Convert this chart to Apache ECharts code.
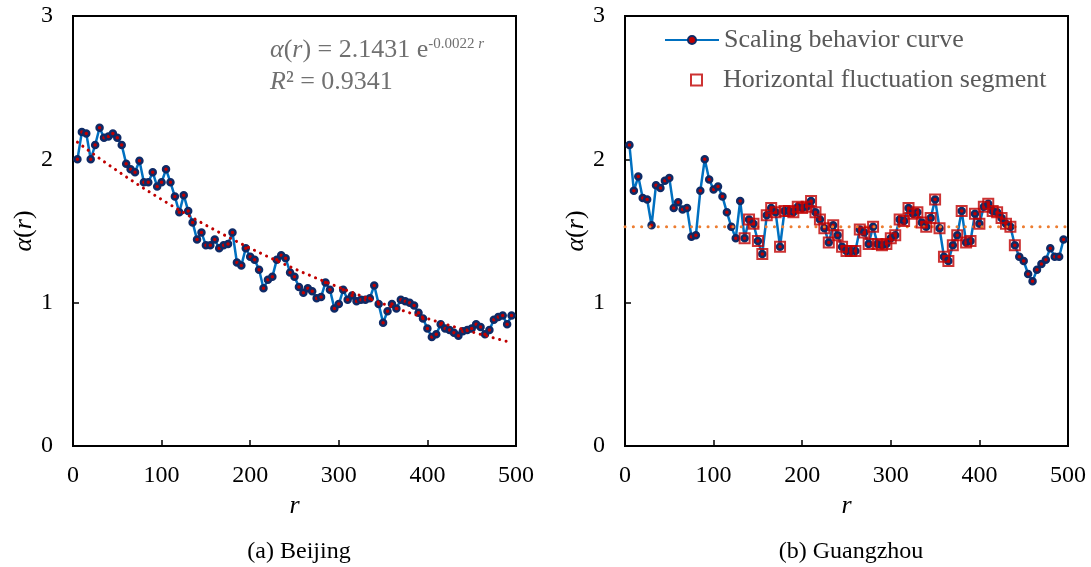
<!DOCTYPE html>
<html>
<head>
<meta charset="utf-8">
<script src="https://cdn.jsdelivr.net/npm/echarts@6/dist/echarts.min.js"></script>
<style>
  html, body { margin: 0; padding: 0; background: #fff; }
  #chart { width: 1091px; height: 567px; }
</style>
</head>
<body>
<div id="chart"></div>
<script>
// sampling radius r (5 .. 495, step 5)
const rValues = Array.from({ length: 99 }, (_, i) => 5 * (i + 1));

const beijingAlpha = [
  2.00, 2.19, 2.18, 2.00, 2.10, 2.22, 2.15, 2.16, 2.18, 2.15,
  2.10, 1.97, 1.93, 1.91, 1.99, 1.84, 1.84, 1.91, 1.81, 1.84,
  1.93, 1.84, 1.74, 1.63, 1.75, 1.64, 1.56, 1.44, 1.49, 1.40,
  1.40, 1.44, 1.38, 1.40, 1.41, 1.49, 1.28, 1.26, 1.38, 1.32,
  1.30, 1.23, 1.10, 1.16, 1.18, 1.30, 1.33, 1.31, 1.21, 1.18,
  1.11, 1.07, 1.10, 1.08, 1.03, 1.04, 1.14, 1.09, 0.96, 0.99,
  1.09, 1.02, 1.05, 1.01, 1.02, 1.02, 1.03, 1.12, 0.99, 0.86,
  0.94, 0.99, 0.96, 1.02, 1.01, 1.00, 0.98, 0.93, 0.89, 0.82,
  0.76, 0.78, 0.85, 0.82, 0.81, 0.79, 0.77, 0.80, 0.81, 0.82,
  0.85, 0.83, 0.78, 0.81, 0.88, 0.90, 0.91, 0.85, 0.91
];

const guangzhouAlpha = [
  2.10, 1.78, 1.88, 1.73, 1.72, 1.54, 1.82, 1.80, 1.85, 1.87,
  1.66, 1.70, 1.65, 1.66, 1.46, 1.47, 1.78, 2.00, 1.86, 1.79,
  1.81, 1.74, 1.63, 1.53, 1.45, 1.71, 1.45, 1.58, 1.55, 1.43,
  1.34, 1.61, 1.66, 1.63, 1.39, 1.64, 1.64, 1.63, 1.67, 1.66,
  1.67, 1.71, 1.63, 1.58, 1.52, 1.42, 1.54, 1.47, 1.39, 1.36,
  1.36, 1.36, 1.51, 1.49, 1.41, 1.53, 1.41, 1.40, 1.41, 1.45,
  1.47, 1.58, 1.57, 1.66, 1.62, 1.63, 1.56, 1.53, 1.59, 1.72,
  1.52, 1.32, 1.29, 1.40, 1.47, 1.64, 1.42, 1.43, 1.62, 1.55,
  1.67, 1.69, 1.64, 1.63, 1.59, 1.55, 1.53, 1.40, 1.32, 1.29,
  1.20, 1.15, 1.23, 1.27, 1.30, 1.38, 1.32, 1.32, 1.44
];

// fitted curve shown on panel (a): alpha(r) = 2.1431 e^(-0.0022 r)
const fitA = 2.1431;
const fitB = -0.0022;

// horizontal reference level on panel (b) and the fluctuation segment range
const guangzhouLevel = 1.53;
const segmentFrom = 135;
const segmentTo = 440;

const xRange = [0, 500];
const yRange = [0, 3];

const FONT = "'Liberation Serif', 'Times New Roman', serif";

const pairs = (ys) => rValues.map((r, i) => [r, ys[i]]);
const fitLine = rValues.map((r) => [r, fitA * Math.exp(fitB * r)]);
const segment = pairs(guangzhouAlpha).filter((p) => p[0] >= segmentFrom && p[0] <= segmentTo);
const levelLine = xRange.map((r) => [r, guangzhouLevel]);

const chart = echarts.init(document.getElementById("chart"));

const grids = [
  { left: 73, top: 16, width: 443, height: 430 },
  { left: 625, top: 16, width: 443, height: 430 }
];

const makeX = (gi) => ({
  type: "value",
  gridIndex: gi,
  min: xRange[0],
  max: xRange[1],
  interval: 100,
  name: "r",
  nameLocation: "middle",
  nameGap: 46,
  nameTextStyle: { fontFamily: FONT, fontStyle: "italic", fontSize: 26, color: "#000" },
  axisLine: { onZero: false, lineStyle: { color: "#000", width: 2 } },
  axisTick: { inside: true, length: 6, lineStyle: { color: "#000", width: 1.5 } },
  axisLabel: { fontFamily: FONT, fontSize: 24, color: "#000", margin: 18 },
  splitLine: { show: false }
});

const makeY = (gi) => ({
  type: "value",
  gridIndex: gi,
  min: yRange[0],
  max: yRange[1],
  interval: 1,
  name: "{i|α}({i|r})",
  nameLocation: "middle",
  nameGap: 36,
  nameTextStyle: {
    fontFamily: FONT, fontSize: 26, color: "#000",
    rich: { i: { fontFamily: FONT, fontStyle: "italic", fontSize: 26, color: "#000" } }
  },
  axisLine: { lineStyle: { color: "#000", width: 2 } },
  axisTick: { inside: true, length: 6, lineStyle: { color: "#000", width: 1.5 } },
  axisLabel: { fontFamily: FONT, fontSize: 24, color: "#000", margin: 20 },
  splitLine: { show: false }
});

const curveStyle = {
  type: "line",
  symbol: "circle",
  symbolSize: 6,
  showSymbol: true,
  lineStyle: { color: "#0070C0", width: 2.5 },
  itemStyle: { color: "#C00000", borderColor: "#0E2A66", borderWidth: 2.5 },
  emphasis: { disabled: true },
  z: 2
};

const legendText = { fontFamily: FONT, fontSize: 26, color: "#595959" };

const option = {
  animation: false,
  backgroundColor: "#fff",
  grid: grids.map((g) => Object.assign({ show: true, borderColor: "#000", borderWidth: 2 }, g)),
  xAxis: [makeX(0), makeX(1)],
  yAxis: [makeY(0), makeY(1)],
  title: [
    {
      text: "{i|α}({i|r}) = 2.1431 e{sup|-0.0022 }{supi|r}",
      left: 265, top: 32,
      textStyle: {
        fontFamily: FONT, fontSize: 26, fontWeight: "normal", color: "#707070",
        rich: {
          i: { fontFamily: FONT, fontStyle: "italic", fontSize: 26, color: "#707070" },
          sup: { fontFamily: FONT, fontSize: 15, color: "#707070", verticalAlign: "top", lineHeight: 16 },
          supi: { fontFamily: FONT, fontSize: 15, fontStyle: "italic", color: "#707070", verticalAlign: "top", lineHeight: 16 }
        }
      }
    },
    {
      text: "{i|R}² = 0.9341",
      left: 265, top: 64,
      textStyle: {
        fontFamily: FONT, fontSize: 26, fontWeight: "normal", color: "#707070",
        rich: { i: { fontFamily: FONT, fontStyle: "italic", fontSize: 26, color: "#707070" } }
      }
    },
    {
      text: "(a) Beijing",
      left: 294, top: 535, textAlign: "center",
      textStyle: { fontFamily: FONT, fontSize: 24, fontWeight: "normal", color: "#000" }
    },
    {
      text: "(b) Guangzhou",
      left: 846, top: 535, textAlign: "center",
      textStyle: { fontFamily: FONT, fontSize: 24, fontWeight: "normal", color: "#000" }
    }
  ],
  legend: [
    {
      data: ["Scaling behavior curve"],
      left: 659,
      top: 22,
      itemWidth: 54,
      itemHeight: 10,
      selectedMode: false,
      textStyle: legendText
    },
    {
      data: ["Horizontal fluctuation segment"],
      left: 685,
      top: 62,
      itemWidth: 11,
      itemHeight: 11,
      selectedMode: false,
      textStyle: Object.assign({ padding: [0, 0, 0, 16] }, legendText)
    }
  ],
  series: [
    Object.assign({}, curveStyle, {
      name: "Beijing curve",
      xAxisIndex: 0, yAxisIndex: 0,
      data: pairs(beijingAlpha)
    }),
    {
      name: "Beijing fit",
      type: "line",
      xAxisIndex: 0, yAxisIndex: 0,
      data: fitLine,
      showSymbol: false,
      symbol: "none",
      lineStyle: { color: "#C00000", width: 3, type: [0.1, 6.6], cap: "round" },
      emphasis: { disabled: true },
      z: 4
    },
    Object.assign({}, curveStyle, {
      name: "Scaling behavior curve",
      xAxisIndex: 1, yAxisIndex: 1,
      data: pairs(guangzhouAlpha)
    }),
    {
      name: "Guangzhou level",
      type: "line",
      xAxisIndex: 1, yAxisIndex: 1,
      data: levelLine,
      showSymbol: false,
      symbol: "none",
      lineStyle: { color: "#ED7D31", width: 3, type: [0.1, 8.2], cap: "round" },
      emphasis: { disabled: true },
      z: 3
    },
    {
      name: "Horizontal fluctuation segment",
      type: "scatter",
      xAxisIndex: 1, yAxisIndex: 1,
      data: segment,
      symbol: "rect",
      symbolSize: 10,
      itemStyle: { color: "rgba(0,0,0,0)", borderColor: "#C00000", borderWidth: 2 },
      emphasis: { disabled: true },
      z: 5
    }
  ]
};

chart.setOption(option);
</script>
</body>
</html>
